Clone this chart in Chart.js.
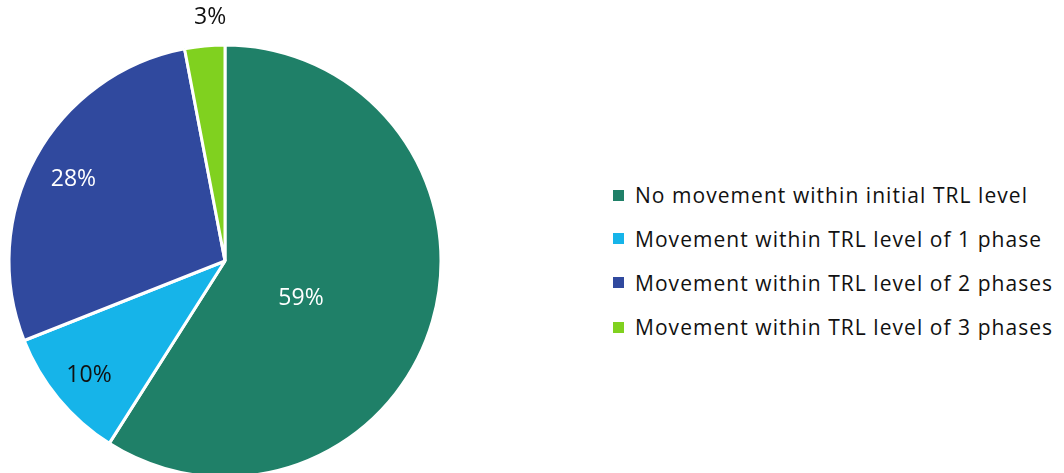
<!DOCTYPE html>
<html>
<head>
<meta charset="utf-8">
<script src="https://cdn.jsdelivr.net/npm/chart.js@4.4.1/dist/chart.umd.min.js"></script>
<style>
  html, body { margin: 0; padding: 0; background: #fff; overflow: hidden; width: 1064px; height: 473px; }
  #wrap { position: absolute; left: 0; top: 0; width: 450px; height: 520px; }
  #legend { position: absolute; left: 613px; top: 0; font-family: "Open Sans", "Noto Sans", sans-serif; font-size: 21px; letter-spacing: 1.05px; color: #111111; }
  #legend .item { position: absolute; left: 0; white-space: nowrap; display: flex; align-items: center; height: 30px; }
  #legend .sw { width: 11px; height: 11px; margin-right: 11px; flex: none; }
</style>
</head>
<body>
<div id="wrap"><canvas id="c"></canvas></div>
<div id="legend"></div>
<script>
const categories = [
  "No movement within initial TRL level",
  "Movement within TRL level of 1 phase",
  "Movement within TRL level of 2 phases",
  "Movement within TRL level of 3 phases"
];
const shares = [59, 10, 28, 3];
const valueLabels = ["59%", "10%", "28%", "3%"];
const sliceColors = ["#1F8068", "#16B4E9", "#30499E", "#80D11F"];
const labelColors = ["#ffffff", "#111111", "#ffffff", "#111111"];

const labelPlugin = {
  id: 'sliceLabels',
  afterDatasetsDraw(chart) {
    const ctx = chart.ctx;
    const meta = chart.getDatasetMeta(0);
    const radiusFactors = [0.393, 0.827, 0.80, 1.135];
    const angleShift = [0.170, -0.009, -0.01, 0.033];
    ctx.save();
    ctx.font = '23px "Open Sans", "Noto Sans", sans-serif';
    ctx.textAlign = 'center';
    ctx.textBaseline = 'middle';
    meta.data.forEach((arc, i) => {
      const p = arc.getProps(['x', 'y', 'startAngle', 'endAngle'], true);
      const mid = (p.startAngle + p.endAngle) / 2 + angleShift[i];
      const r = 215 * radiusFactors[i];
      ctx.fillStyle = labelColors[i];
      ctx.fillText(valueLabels[i], p.x + Math.cos(mid) * r, p.y + Math.sin(mid) * r);
    });
    ctx.restore();
  }
};

new Chart(document.getElementById('c'), {
  type: 'pie',
  data: {
    labels: categories,
    datasets: [{
      data: shares,
      backgroundColor: sliceColors,
      borderColor: '#ffffff',
      borderWidth: 3,
      hoverOffset: 0,
      radius: 216
    }]
  },
  options: {
    responsive: true,
    maintainAspectRatio: false,
    animation: false,
    layout: { padding: { left: 10, right: 10, top: 46, bottom: 44 } },
    plugins: { legend: { display: false }, tooltip: { enabled: false } }
  },
  plugins: [labelPlugin]
});

const legend = document.getElementById('legend');
const rowY = [195, 238.5, 282.5, 327];
categories.forEach((name, i) => {
  const d = document.createElement('div');
  d.className = 'item';
  d.style.top = (rowY[i] - 15) + 'px';
  const sw = document.createElement('span');
  sw.className = 'sw';
  sw.style.background = sliceColors[i];
  const t = document.createElement('span');
  t.textContent = name;
  d.appendChild(sw); d.appendChild(t);
  legend.appendChild(d);
});
</script>
</body>
</html>
